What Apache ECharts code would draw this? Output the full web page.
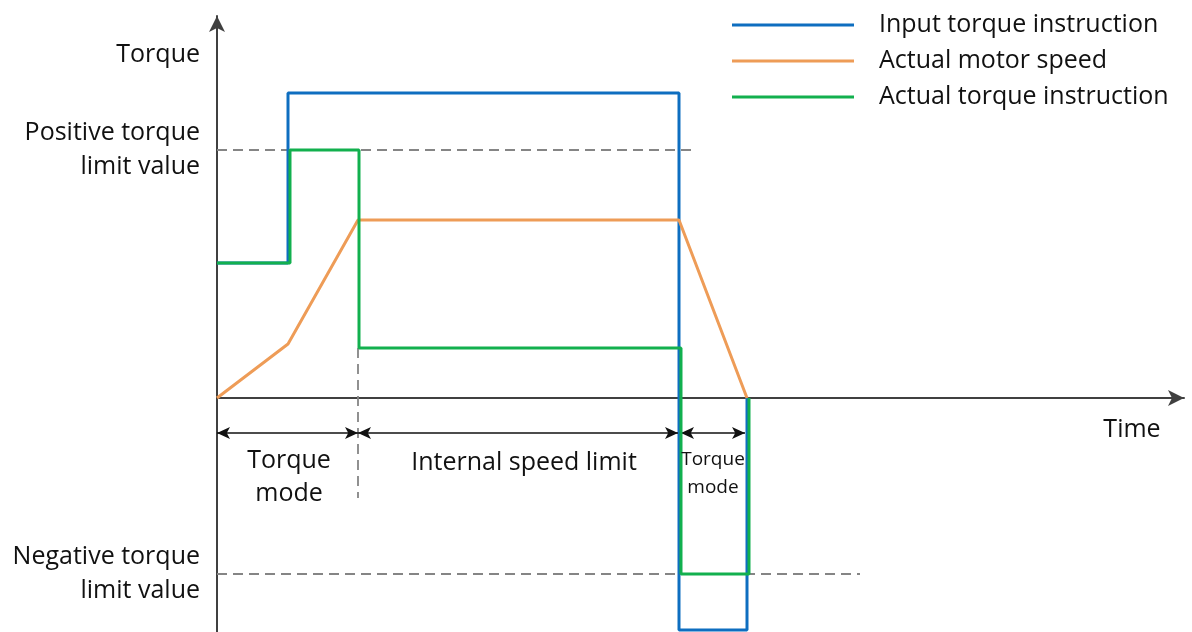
<!DOCTYPE html>
<html>
<head>
<meta charset="utf-8">
<script src="https://cdn.jsdelivr.net/npm/echarts@6/dist/echarts.min.js"></script>
<style>
	html, body { margin: 0; padding: 0; background: #fff; }
	#chart { width: 1192px; height: 632px; }
</style>
</head>
<body>
<div id="chart"></div>
<script>
	// schematic units: time on x, torque / speed on y (0 = time axis)
	var seriesNames = ['Input torque instruction', 'Actual motor speed', 'Actual torque instruction'];
	var inputTorque = [[0, 135], [71, 135], [71, 305], [462, 305], [462, -232], [530, -232], [530, 0]];
	var motorSpeed = [[0, 0], [71, 54], [141, 178], [462, 178], [530, 0]];
	var actualTorque = [[0, 135], [73, 135], [73, 248], [142, 248], [142, 50], [464, 50], [464, -176], [532, -176], [532, 0]];

	var posLimit = [[0, 248], [476, 248]];
	var negLimit = [[0, -176], [643, -176]];
	var modeSplit = [[141, 50], [141, -100]];

	var yLabelValues = [343, 248, -176];
	var yLabelTexts = ['Torque', 'Positive torque\nlimit value', 'Negative torque\nlimit value'];

	// double arrows below the time axis
	var spans = [[0, 141], [141, 461], [464, 528]];
	var spanY = -35;
	var notes = [
		{ name: 'Time', value: [915, -32], size: 25, lh: 30 },
		{ name: 'Torque\nmode', value: [72, -79], size: 25, lh: 33 },
		{ name: 'Internal speed limit', value: [307, -65], size: 25, lh: 30 },
		{ name: 'Torque\nmode', value: [496, -76], size: 19, lh: 28 }
	];

	var colors = ['#0E6EC0', '#EE9C57', '#12B04E'];
	var font = '"Open Sans", "Noto Sans", sans-serif';

	var myChart = echarts.init(document.getElementById('chart'));

	function dashed(data) {
		return {
			type: 'line',
			data: data,
			symbol: 'none',
			silent: true,
			z: 1,
			lineStyle: { color: '#858585', width: 1.8, type: [10, 6] }
		};
	}

	var option = {
		animation: false,
		color: colors,
		textStyle: { fontFamily: font },
		legend: {
			data: seriesNames,
			orient: 'vertical',
			left: 727,
			top: 7,
			icon: 'rect',
			itemWidth: 122,
			itemHeight: 3,
			itemGap: 10,
			selectedMode: false,
			textStyle: {
				fontFamily: font,
				fontSize: 25,
				lineHeight: 26,
				color: '#111',
				padding: [0, 0, 0, 20]
			}
		},
		grid: { left: 217, right: 8, top: 16, bottom: 0, containLabel: false, outerBoundsMode: 'none' },
		xAxis: {
			type: 'value',
			min: 0,
			max: 967,
			splitLine: { show: false },
			axisTick: { show: false },
			axisLabel: { show: false },
			axisLine: {
				onZero: true,
				symbol: ['none', 'arrow'],
				symbolSize: [12, 16],
				lineStyle: { color: '#404040', width: 2 }
			}
		},
		yAxis: {
			type: 'value',
			min: -234,
			max: 382,
			splitLine: { show: false },
			axisTick: { show: false },
			axisLine: {
				onZero: false,
				symbol: ['none', 'arrow'],
				symbolSize: [12, 16],
				lineStyle: { color: '#404040', width: 2 }
			},
			axisLabel: {
				customValues: yLabelValues,
				formatter: function (v) {
					return yLabelTexts[yLabelValues.indexOf(v)];
				},
				margin: 17,
				fontSize: 25,
				lineHeight: 34,
				align: 'right',
				fontFamily: font,
				color: '#111'
			}
		},
		series: [
			dashed(posLimit),
			dashed(negLimit),
			dashed(modeSplit),
			{
				name: seriesNames[0],
				type: 'line',
				data: inputTorque,
				symbol: 'none',
				z: 3,
				lineStyle: { width: 3, color: colors[0] }
			},
			{
				name: seriesNames[1],
				type: 'line',
				data: motorSpeed,
				symbol: 'none',
				z: 4,
				lineStyle: { width: 3, color: colors[1] }
			},
			{
				name: seriesNames[2],
				type: 'line',
				data: actualTorque,
				symbol: 'none',
				z: 5,
				lineStyle: { width: 3, color: colors[2] }
			},
			{
				type: 'scatter',
				data: notes.map(function (n) {
					return {
						name: n.name,
						value: n.value,
						label: { fontSize: n.size, lineHeight: n.lh }
					};
				}),
				symbolSize: 0,
				silent: true,
				z: 6,
				itemStyle: { opacity: 1 },
				label: {
					show: true,
					position: 'inside',
					formatter: '{b}',
					color: '#111',
					opacity: 1,
					fontFamily: font,
					align: 'center',
					verticalAlign: 'middle'
				},
				markLine: {
					silent: true,
					symbol: ['arrow', 'arrow'],
					symbolSize: [9, 13],
					label: { show: false },
					lineStyle: { color: '#111', width: 1.5, type: 'solid', opacity: 1 },
					data: spans.map(function (s) {
						return [{ coord: [s[0], spanY] }, { coord: [s[1], spanY] }];
					})
				}
			}
		]
	};

	myChart && myChart.setOption(option);
</script>
</body>
</html>
